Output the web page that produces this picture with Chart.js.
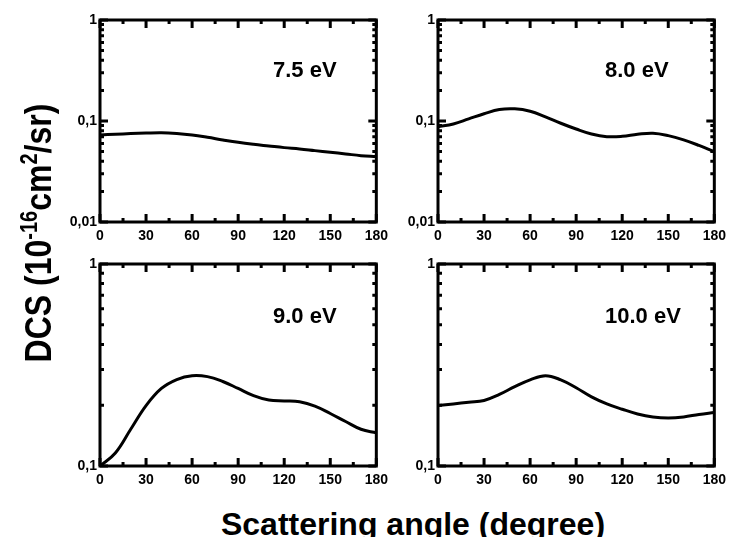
<!DOCTYPE html>
<html lang="en">
<head>
<meta charset="UTF-8">
<title>DCS</title>
<style>
    body { margin: 0; background: #fff; }
    #wrap { position: relative; width: 731px; height: 537px; overflow: hidden; font-family: "Liberation Sans", Arial, sans-serif; font-weight: bold; color: #000; }
    canvas { position: absolute; }
    .elab { position: absolute; font-size: 22px; line-height: 22px; white-space: nowrap; }
    #ytitle { position: absolute; left: -112px; top: 213px; width: 300px; height: 40px; line-height: 40px; font-size: 32px; text-align: center; white-space: nowrap; transform: rotate(-90deg) scale(1, 1.15); }
    #ytitle sup { font-size: 20px; line-height: 0; vertical-align: 0.6em; }
    #xtitle { position: absolute; left: 163px; top: 508px; width: 500px; font-size: 32px; line-height: 32px; text-align: center; white-space: nowrap; }
</style>
</head>
<body>
<div id="wrap">
    <canvas id="c1" width="344" height="240" style="left:50px; top:8px;"></canvas>
    <canvas id="c2" width="344" height="240" style="left:388px; top:8px;"></canvas>
    <canvas id="c3" width="344" height="240" style="left:50px; top:252px;"></canvas>
    <canvas id="c4" width="344" height="240" style="left:388px; top:252px;"></canvas>
    <div class="elab" style="left:273px; top:59px;">7.5 eV</div>
    <div class="elab" style="left:605px; top:59px;">8.0 eV</div>
    <div class="elab" style="left:273px; top:305px;">9.0 eV</div>
    <div class="elab" style="left:605px; top:305px;">10.0 eV</div>
    <div id="ytitle">DCS (10<sup>-16</sup>cm<sup>2</sup>/sr)</div>
    <div id="xtitle">Scattering angle (degree)</div>
</div>

<script src="https://cdn.jsdelivr.net/npm/chart.js"></script>
<script>
    // scattering angle (deg)
    const angles = [0, 10, 20, 30, 40, 50, 60, 70, 80, 90, 100, 110, 120, 130, 140, 150, 160, 170, 180];
    // DCS values (10^-16 cm^2/sr)
    const dcs75 = [0.0727, 0.074, 0.075, 0.076, 0.0766, 0.0753, 0.0727, 0.069, 0.065, 0.0615, 0.0588, 0.0566, 0.0545, 0.0529, 0.0509, 0.049, 0.0472, 0.0454, 0.0444];
    const dcs80 = [0.0879, 0.0935, 0.105, 0.118, 0.13, 0.132, 0.125, 0.11, 0.095, 0.0833, 0.0744, 0.07, 0.0705, 0.0738, 0.0756, 0.0716, 0.065, 0.0573, 0.0497];
    const dcs90 = [0.1, 0.116, 0.152, 0.199, 0.242, 0.268, 0.28, 0.277, 0.262, 0.242, 0.223, 0.212, 0.21, 0.208, 0.198, 0.182, 0.166, 0.152, 0.146];
    const dcs100 = [0.199, 0.203, 0.207, 0.211, 0.226, 0.247, 0.267, 0.28, 0.267, 0.244, 0.22, 0.203, 0.191, 0.181, 0.175, 0.173, 0.175, 0.18, 0.184];

    const xTicks = [0, 30, 60, 90, 120, 150, 180];
    const xMinor = [15, 45, 75, 105, 135, 165];
    const yTicksTop = [0.01, 0.1, 1];
    const yTicksBottom = [0.1, 1];
    const mantissa = [2, 3, 4, 5, 6, 7, 8, 9];

    // frame + inward ticks on all four sides
    const framePlugin = {
        id: 'frame',
        afterDraw(chart) {
            const ctx = chart.ctx;
            const a = chart.chartArea;
            const xs = chart.scales.x;
            const ys = chart.scales.y;
            ctx.save();
            ctx.strokeStyle = '#000';
            ctx.lineWidth = 3;
            ctx.lineCap = 'butt';
            ctx.beginPath();
            const tick = (x1, y1, x2, y2) => { ctx.moveTo(x1, y1); ctx.lineTo(x2, y2); };
            xTicks.forEach(v => {
                const px = xs.getPixelForValue(v);
                tick(px, a.bottom, px, a.bottom - 8);
                tick(px, a.top, px, a.top + 8);
            });
            xMinor.forEach(v => {
                const px = xs.getPixelForValue(v);
                tick(px, a.bottom, px, a.bottom - 4);
                tick(px, a.top, px, a.top + 4);
            });
            const majors = chart.options.scales.y.min < 0.05 ? yTicksTop : yTicksBottom;
            majors.forEach((d, i) => {
                const py = ys.getPixelForValue(d);
                tick(a.left, py, a.left + 8, py);
                tick(a.right, py, a.right - 8, py);
                if (i < majors.length - 1) {
                    mantissa.forEach(m => {
                        const q = ys.getPixelForValue(m * d);
                        tick(a.left, q, a.left + 4, q);
                        tick(a.right, q, a.right - 4, q);
                    });
                }
            });
            ctx.stroke();
            ctx.strokeRect(a.left, a.top, a.right - a.left, a.bottom - a.top);
            ctx.restore();
        }
    };

    function f_panel(id, values, yMin, yTicks) {
        const pts = angles.map((a, i) => ({ x: a, y: values[i] }));
        new Chart(document.getElementById(id), {
            type: 'line',
            data: {
                datasets: [{
                    data: pts,
                    borderColor: '#000',
                    borderWidth: 3,
                    pointRadius: 0,
                    tension: 0.4,
                    fill: false
                }]
            },
            options: {
                responsive: false,
                animation: false,
                events: [],
                layout: { padding: { left: 0, top: 12, right: 14, bottom: 0 } },
                plugins: { legend: { display: false }, tooltip: { enabled: false } },
                scales: {
                    x: {
                        type: 'linear',
                        min: 0,
                        max: 180,
                        afterBuildTicks: s => { s.ticks = xTicks.map(v => ({ value: v })); },
                        afterFit: s => { s.height = 26; },
                        grid: { display: false, drawTicks: false },
                        border: { display: false },
                        ticks: {
                            color: '#000',
                            padding: 6,
                            maxRotation: 0,
                            font: { family: 'Liberation Sans', size: 14, weight: 'bold' }
                        }
                    },
                    y: {
                        type: 'logarithmic',
                        min: yMin,
                        max: 1,
                        afterBuildTicks: s => { s.ticks = yTicks.map(v => ({ value: v })); },
                        afterFit: s => { s.width = 50; },
                        grid: { display: false, drawTicks: false },
                        border: { display: false },
                        ticks: {
                            color: '#000',
                            padding: 3,
                            callback: v => String(v).replace('.', ','),
                            font: { family: 'Liberation Sans', size: 14, weight: 'bold' }
                        }
                    }
                }
            },
            plugins: [framePlugin]
        });
    }

    f_panel('c1', dcs75, 0.01, yTicksTop);
    f_panel('c2', dcs80, 0.01, yTicksTop);
    f_panel('c3', dcs90, 0.1, yTicksBottom);
    f_panel('c4', dcs100, 0.1, yTicksBottom);
</script>
</body>
</html>
